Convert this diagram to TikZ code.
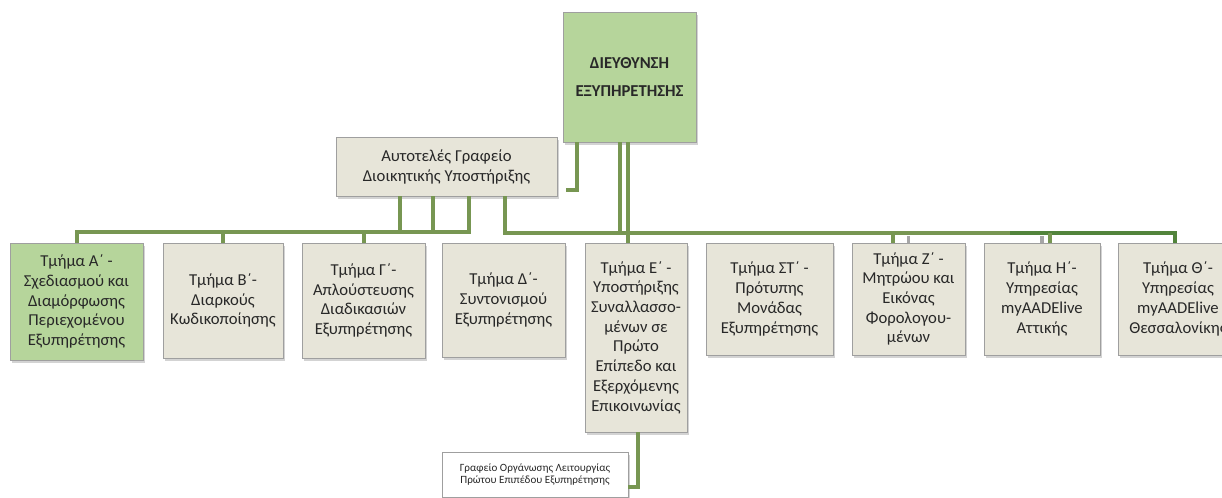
\documentclass[tikz,border=0pt]{standalone}
\usepackage{fontspec}
\setmainfont{Carlito}
\usetikzlibrary{positioning, shadows, calc}
\definecolor{boxgreen}{RGB}{182,213,155}
\definecolor{boxbeige}{RGB}{231,229,217}
\definecolor{linegreen}{RGB}{119,150,82}
\definecolor{darkline}{RGB}{82,132,60}
\definecolor{txtgray}{RGB}{40,40,40}

\begin{document}
\begin{tikzpicture}[x=0.75pt, y=-0.75pt,
    box/.style={draw=gray!75, fill=boxbeige, align=center, text=txtgray,
                inner sep=1pt, font=\fontsize{12.5}{14.8}\selectfont,
                drop shadow={shadow xshift=1.5pt, shadow yshift=-2pt, opacity=0.35}},
    greenbox/.style={box, fill=boxgreen},
    conn/.style={draw=linegreen, line width=3pt, line join=miter},
    stub/.style={draw=gray!70, line width=2.5pt}
  ]
    \useasboundingbox (0,0) rectangle (1222,498);
    \clip (0,0) rectangle (1222,498);

    %% Top: director and office
    \node[greenbox, minimum width=99.75pt, minimum height=97.5pt,
          font=\bfseries\fontsize{12.5}{20.5}\selectfont] (dir) at (629.5,77)
      {ΔΙΕΥΘΥΝΣΗ\\ΕΞΥΠΗΡΕΤΗΣΗΣ};
    \node[box, minimum width=165.75pt, minimum height=44.25pt,
          font=\fontsize{12.5}{15}\selectfont] (aut) at (446.5,166.5)
      {Αυτοτελές Γραφείο\\Διοικητικής Υποστήριξης};

    %% Row of departments
    \node[greenbox, minimum width=99.75pt, minimum height=87.75pt] (tA) at (76.5,301.5)
      {Τμήμα Α΄ -\\Σχεδιασμού και\\Διαμόρφωσης\\Περιεχομένου\\Εξυπηρέτησης};
    \node[box, minimum width=90pt, minimum height=86.25pt] (tB) at (223,300.5)
      {Τμήμα Β΄-\\Διαρκούς\\Κωδικοποίησης};
    \node[box, minimum width=92.25pt, minimum height=86.25pt] (tG) at (363.5,300.5)
      {Τμήμα Γ΄-\\Απλούστευσης\\Διαδικασιών\\Εξυπηρέτησης};
    \node[box, minimum width=92.25pt, minimum height=85.5pt] (tD) at (503.5,300)
      {Τμήμα Δ΄-\\Συντονισμού\\Εξυπηρέτησης};
    \node[box, minimum width=76.5pt, minimum height=141.75pt] (tE) at (636,337.5)
      {Τμήμα Ε΄ -\\Υποστήριξης\\Συναλλασσο-\\μένων σε\\Πρώτο\\Επίπεδο και\\Εξερχόμενης\\Επικοινωνίας};
    \node[box, minimum width=95.25pt, minimum height=84pt] (tST) at (769.5,299)
      {Τμήμα ΣΤ΄ -\\Πρότυπης\\Μονάδας\\Εξυπηρέτησης};
    \node[box, minimum width=84.75pt, minimum height=84pt] (tZ) at (908.5,299)
      {Τμήμα Ζ΄ -\\Μητρώου και\\Εικόνας\\Φορολογου-\\μένων};
    \node[box, minimum width=87pt, minimum height=84pt] (tH) at (1042,299)
      {Τμήμα Η΄-\\Υπηρεσίας\\myAADElive\\Αττικής};
    \node[box, minimum width=90pt, minimum height=84pt] (tTh) at (1178,299)
      {Τμήμα Θ΄-\\Υπηρεσίας\\myAADElive\\Θεσσαλονίκης};

    %% Office under department E
    \node[box, fill=white, minimum width=139.5pt, minimum height=33.75pt,
          font=\fontsize{8.3}{9.5}\selectfont] (gro) at (535,474.5)
      {Γραφείο Οργάνωσης Λειτουργίας\\Πρώτου Επιπέδου Εξυπηρέτησης};

    %% Director connectors
    \draw[conn] ($(dir.south)+(-52.5,0)$) |- ($(aut.east)+(9,23.5)$);
    \draw[conn] ($(dir.south)+(-9.5,0)$) -- ($(dir.south)+(-9.5,91)$);
    \draw[conn] ($(dir.south)+(-1.5,0)$) -- ($(tE.north)+(-8,0)$);

    %% Right bus
    \draw[conn] ($(aut.south)+(58.5,0)$) |- ($(tH.north)+(-32,-10)$);
    \draw[conn, draw=darkline] ($(tH.north)+(-32,-10)$) -| ($(tTh.north)+(-3,0)$);
    \draw[conn] ($(tZ.north)+(-15.5,-10)$) -- ($(tZ.north)+(-15.5,0)$);
    \draw[conn] ($(tH.north)+(8,-10)$) -- ($(tH.north)+(8,0)$);
    \draw[stub] (tZ.north) -- ++(0,-7);
    \draw[stub] (tH.north) -- ++(0,-7);

    %% Left bus
    \draw[conn] ($(aut.south)+(22.5,0)$) |- ($(tA.north)+(0.5,-11)$) -- ($(tA.north)+(0.5,0)$);
    \draw[conn] ($(aut.south)+(-46.5,0)$) -- ++(0,36);
    \draw[conn] ($(aut.south)+(-13.5,0)$) -- ++(0,36);
    \draw[conn] (tB.north) -- ++(0,-11);
    \draw[conn] (tG.north) -- ++(0,-11);

    %% Department E to office
    \draw[conn] ($(tE.south)+(2,0)$) |- ($(gro.east)+(0,12.5)$);
  \end{tikzpicture}
\end{document}
